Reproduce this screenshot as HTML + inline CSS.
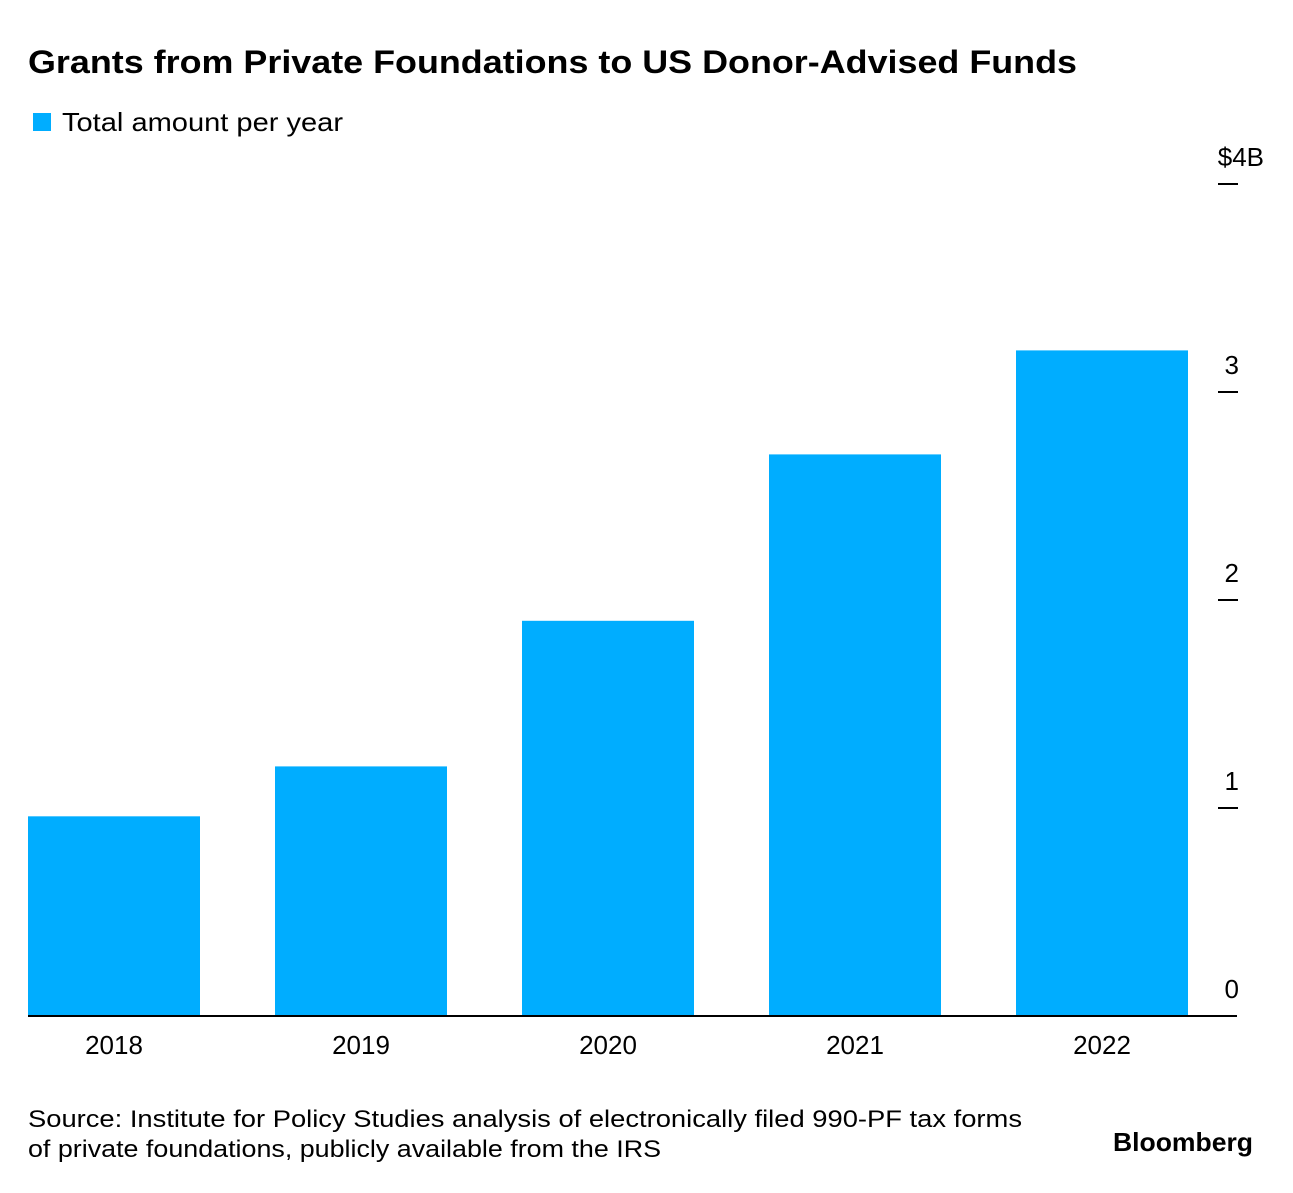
<!DOCTYPE html>
<html><head><meta charset="utf-8"><style>
body{margin:0;background:#fff;width:1293px;height:1188px;overflow:hidden;font-family:"Liberation Sans",sans-serif;}
</style></head><body>
<svg width="1293" height="1188" xmlns="http://www.w3.org/2000/svg">
<text x="28" y="73" font-size="32" font-weight="bold" fill="#000" textLength="1049" lengthAdjust="spacingAndGlyphs">Grants from Private Foundations to US Donor-Advised Funds</text>
<g>
<rect x="33" y="113" width="18" height="18" fill="#00adff"/>
<text x="62" y="131" font-size="26" fill="#000" textLength="281" lengthAdjust="spacingAndGlyphs">Total amount per year</text>
</g>
<g id="bars"></g>
<g id="axis"></g>
<line x1="28" y1="1016" x2="1237" y2="1016" stroke="#000" stroke-width="2"/>
<text x="28" y="1127" font-size="24" fill="#000" textLength="994" lengthAdjust="spacingAndGlyphs">Source: Institute for Policy Studies analysis of electronically filed 990-PF tax forms</text>
<text x="28" y="1157" font-size="24" fill="#000" textLength="633" lengthAdjust="spacingAndGlyphs">of private foundations, publicly available from the IRS</text>
<text x="1113" y="1151" font-size="26" font-weight="bold" fill="#000" textLength="140" lengthAdjust="spacingAndGlyphs">Bloomberg</text>
</svg>
<script>
const categories=["2018","2019","2020","2021","2022"];
const values=[0.96,1.20,1.90,2.70,3.20];
const yTicks=[0,1,2,3,4];
const yTickLabels=["0","1","2","3","$4B"];
const NS="http://www.w3.org/2000/svg";
const y0=1016,pxPerUnit=208;
function yScale(v){return y0-v*pxPerUnit;}
function xScale(i){return 28+i*247;}
const bw=172;
const bars=document.getElementById('bars');
values.forEach((v,i)=>{
 const r=document.createElementNS(NS,'rect');
 r.setAttribute('x',xScale(i));r.setAttribute('y',yScale(v));
 r.setAttribute('width',bw);r.setAttribute('height',y0-yScale(v));
 r.setAttribute('fill','#00adff');
 
 
 bars.appendChild(r);
 const t=document.createElementNS(NS,'text');
 t.setAttribute('x',xScale(i)+bw/2);t.setAttribute('y',1054);
 t.setAttribute('font-size','26');t.setAttribute('text-anchor','middle');
 t.textContent=categories[i];
 
 
 bars.appendChild(t);
});
const ax=document.getElementById('axis');
yTicks.forEach((v,i)=>{
 const y=yScale(v);
 if(v>0){
 const l=document.createElementNS(NS,'line');
 l.setAttribute('x1',1218);l.setAttribute('x2',1238);l.setAttribute('y1',y);l.setAttribute('y2',y);
 l.setAttribute('stroke','#000');l.setAttribute('stroke-width','2');
 
 
 ax.appendChild(l);}
 const t=document.createElementNS(NS,'text');
 t.setAttribute('x',v===4?1264:1239);t.setAttribute('y',y-18);
 t.setAttribute('font-size','26');t.setAttribute('text-anchor','end');
 t.textContent=yTickLabels[i];
 
 
 ax.appendChild(t);
});
</script>
</body></html>
